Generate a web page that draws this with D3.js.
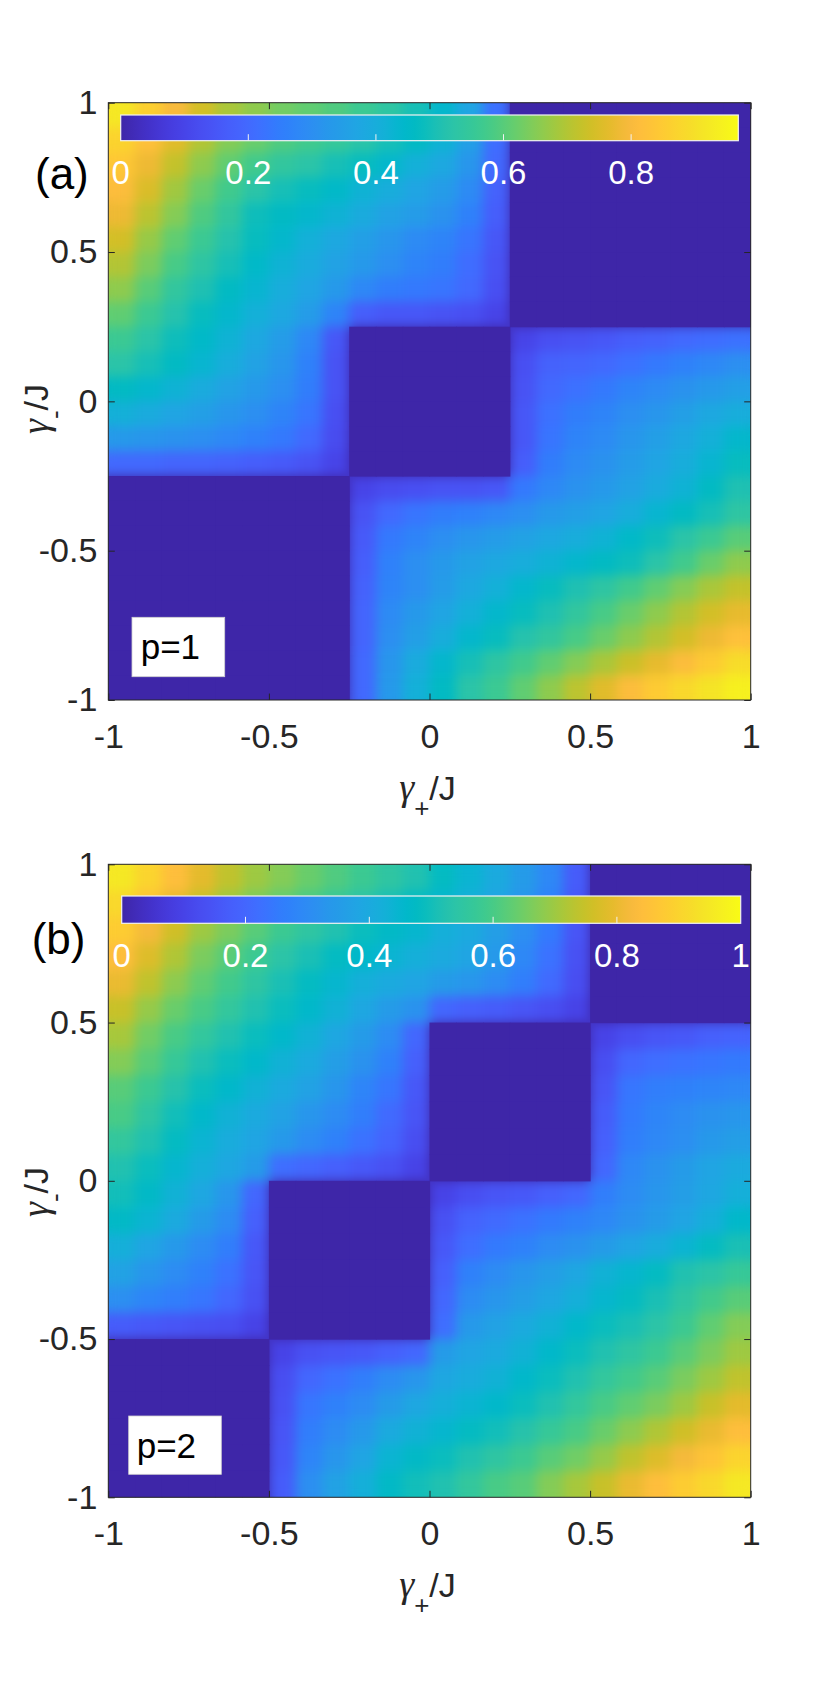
<!DOCTYPE html>
<html>
<head>
<meta charset="utf-8">
<script src="https://cdn.jsdelivr.net/npm/d3@7"></script>
<style>
  body { margin: 0; background: #fff; }
  svg text { font-family: "Liberation Sans", Arial, Helvetica, sans-serif; }
</style>
</head>
<body>
<script>
// axis ticks and colorbar ticks
const gammaTicks = [-1, -0.5, 0, 0.5, 1];
const cbTicksA = [0, 0.2, 0.4, 0.6, 0.8];
const cbTicksB = [0, 0.2, 0.4, 0.6, 0.8, 1];
const climA = [0, 0.968];
const climB = [0, 1];
const nGrid = 24; // cells per side, gamma from -1 to 1

// p=1 map, rows from gamma_- = 1 (top) to -1, columns gamma_+ = -1 .. 1 (values x100)
const valuesA = [
  [92,86,80,74,69,66,63,61,59,56,53,49,44,37,22,0,0,0,0,0,0,0,0,0],
  [87,82,76,70,65,62,59,57,55,52,49,46,42,35,21,0,0,0,0,0,0,0,0,0],
  [84,78,72,66,61,57,54,52,49,47,44,41,38,32,20,0,0,0,0,0,0,0,0,0],
  [81,75,68,62,57,52,49,47,45,42,40,37,34,29,18,0,0,0,0,0,0,0,0,0],
  [78,71,65,59,54,48,46,44,42,39,36,34,31,26,17,0,0,0,0,0,0,0,0,0],
  [74,67,61,56,51,47,44,41,38,35,32,29,27,23,15,0,0,0,0,0,0,0,0,0],
  [70,64,58,53,49,45,42,39,36,33,30,27,25,21,14,0,0,0,0,0,0,0,0,0],
  [66,60,54,50,46,43,40,37,33,28,25,24,23,20,13,0,0,0,0,0,0,0,0,0],
  [61,56,51,47,44,41,38,34,27,17,15,15,14,13,10,0,0,0,0,0,0,0,0,0],
  [56,52,48,45,42,38,34,28,15,0,0,0,0,0,0,10,13,14,15,17,18,20,21,22],
  [52,49,46,43,40,36,32,26,14,0,0,0,0,0,0,13,18,19,20,22,24,26,28,30],
  [46,44,42,39,36,33,30,25,14,0,0,0,0,0,0,14,20,22,24,27,29,31,33,35],
  [41,39,37,35,32,30,27,23,13,0,0,0,0,0,0,15,22,25,27,30,32,35,38,40],
  [33,32,31,30,28,26,24,20,12,0,0,0,0,0,0,15,23,27,29,32,35,38,41,44],
  [20,20,19,19,18,17,16,14,10,0,0,0,0,0,0,17,25,29,31,34,37,40,43,47],
  [0,0,0,0,0,0,0,0,0,10,12,13,14,14,15,24,28,31,33,36,39,42,46,50],
  [0,0,0,0,0,0,0,0,0,14,20,23,25,26,28,30,33,35,37,40,43,46,49,53],
  [0,0,0,0,0,0,0,0,0,16,24,27,30,32,34,36,38,40,42,45,48,52,56,60],
  [0,0,0,0,0,0,0,0,0,17,26,30,33,36,38,40,42,44,46,48,52,57,62,66],
  [0,0,0,0,0,0,0,0,0,18,27,30,34,38,41,44,47,50,53,57,61,65,69,72],
  [0,0,0,0,0,0,0,0,0,19,29,33,37,41,44,47,50,54,58,62,66,70,74,77],
  [0,0,0,0,0,0,0,0,0,19,30,35,40,44,47,51,54,58,62,66,70,74,78,82],
  [0,0,0,0,0,0,0,0,0,20,32,39,44,49,53,57,61,65,69,73,77,81,85,89],
  [0,0,0,0,0,0,0,0,0,20,33,41,46,52,56,61,66,71,76,81,85,88,91,94]
];

// p=2 map, same layout
const valuesB = [
  [95,90,84,79,74,70,67,64,61,58,55,52,48,44,40,35,29,17,0,0,0,0,0,0],
  [91,86,80,75,70,66,63,60,57,54,51,48,45,42,38,33,27,16,0,0,0,0,0,0],
  [88,82,76,70,66,62,58,55,52,49,47,45,42,40,36,31,25,15,0,0,0,0,0,0],
  [84,78,72,66,62,58,54,51,48,46,44,42,40,38,34,29,23,14,0,0,0,0,0,0],
  [80,74,68,63,59,55,51,48,45,42,40,38,35,33,30,26,21,13,0,0,0,0,0,0],
  [75,69,64,60,56,52,49,46,43,39,35,32,20,18,17,15,13,10,0,0,0,0,0,0],
  [71,65,60,56,52,49,46,43,39,35,30,20,0,0,0,0,0,0,10,13,15,16,18,19],
  [67,62,57,52,49,46,43,40,36,32,27,18,0,0,0,0,0,0,13,20,22,23,24,25],
  [62,58,53,49,46,43,40,37,33,28,24,16,0,0,0,0,0,0,15,24,26,27,28,29],
  [60,55,50,46,43,40,37,33,30,26,21,15,0,0,0,0,0,0,17,25,28,30,32,33],
  [56,52,48,44,41,38,34,30,27,23,19,13,0,0,0,0,0,0,18,26,29,31,34,36],
  [52,49,45,42,39,35,22,20,18,16,14,10,0,0,0,0,0,0,20,29,32,35,38,40],
  [50,47,43,39,33,20,0,0,0,0,0,0,10,13,15,16,18,20,26,30,33,36,39,42],
  [47,44,40,35,30,18,0,0,0,0,0,0,14,19,21,23,25,27,29,32,35,38,42,46],
  [42,38,34,30,26,16,0,0,0,0,0,0,16,22,25,27,30,32,35,38,41,44,48,51],
  [37,33,30,27,23,15,0,0,0,0,0,0,18,27,30,33,36,39,43,45,48,52,54,57],
  [31,28,26,24,20,14,0,0,0,0,0,0,20,30,33,36,39,42,45,48,51,55,59,62],
  [17,16,15,14,13,10,0,0,0,0,0,0,22,34,37,40,43,46,49,51,54,58,63,67],
  [0,0,0,0,0,0,10,14,15,16,18,20,35,38,40,43,46,49,52,55,58,62,66,70],
  [0,0,0,0,0,0,13,20,23,26,30,33,39,41,43,46,49,52,56,59,62,66,70,74],
  [0,0,0,0,0,0,14,24,27,30,35,39,42,44,46,49,52,56,60,63,66,70,75,79],
  [0,0,0,0,0,0,15,26,30,34,40,43,45,48,50,53,57,60,64,68,72,76,80,84],
  [0,0,0,0,0,0,16,28,33,38,44,47,49,52,55,58,62,65,69,74,78,82,86,90],
  [0,0,0,0,0,0,17,31,37,42,47,50,52,56,60,62,67,71,75,80,84,88,91,95]
];

// parula colormap, 64 entries (r, g, b in 0..1)
const parulaMap = [
  [0.2422,0.1504,0.6603],[0.2504,0.1650,0.7076],[0.2578,0.1818,0.7511],[0.2647,0.1978,0.7952],
  [0.2706,0.2147,0.8364],[0.2751,0.2342,0.8710],[0.2783,0.2559,0.8991],[0.2803,0.2782,0.9221],
  [0.2813,0.3006,0.9414],[0.2810,0.3228,0.9579],[0.2795,0.3447,0.9717],[0.2760,0.3667,0.9829],
  [0.2699,0.3892,0.9906],[0.2602,0.4123,0.9952],[0.2440,0.4358,0.9988],[0.2206,0.4603,0.9973],
  [0.1963,0.4847,0.9892],[0.1834,0.5074,0.9798],[0.1786,0.5289,0.9682],[0.1764,0.5499,0.9520],
  [0.1687,0.5703,0.9359],[0.1540,0.5902,0.9218],[0.1460,0.6091,0.9079],[0.1380,0.6276,0.8973],
  [0.1248,0.6459,0.8883],[0.1113,0.6635,0.8763],[0.0952,0.6798,0.8598],[0.0689,0.6948,0.8394],
  [0.0297,0.7082,0.8163],[0.0036,0.7203,0.7917],[0.0067,0.7312,0.7660],[0.0433,0.7411,0.7394],
  [0.0964,0.7500,0.7120],[0.1408,0.7584,0.6842],[0.1717,0.7670,0.6554],[0.1938,0.7758,0.6251],
  [0.2161,0.7843,0.5923],[0.2470,0.7918,0.5567],[0.2906,0.7973,0.5188],[0.3406,0.8008,0.4789],
  [0.3909,0.8029,0.4354],[0.4456,0.8024,0.3909],[0.5044,0.7993,0.3480],[0.5616,0.7942,0.3045],
  [0.6174,0.7876,0.2612],[0.6720,0.7793,0.2227],[0.7242,0.7698,0.1910],[0.7738,0.7598,0.1646],
  [0.8203,0.7498,0.1535],[0.8634,0.7406,0.1596],[0.9035,0.7330,0.1774],[0.9393,0.7288,0.2100],
  [0.9728,0.7298,0.2394],[0.9956,0.7434,0.2371],[0.9970,0.7659,0.2199],[0.9952,0.7893,0.2028],
  [0.9892,0.8136,0.1885],[0.9786,0.8386,0.1766],[0.9676,0.8639,0.1643],[0.9610,0.8890,0.1537],
  [0.9597,0.9135,0.1423],[0.9628,0.9373,0.1265],[0.9691,0.9606,0.1064],[0.9769,0.9839,0.0805]
];
const parulaCol = parulaMap.map(c => d3.rgb(c[0] * 255, c[1] * 255, c[2] * 255).formatHex());
const parulaPos = parulaCol.map((c, k) => k / (parulaCol.length - 1));
const parula = d3.scaleLinear().domain(parulaPos).range(parulaCol)
  .interpolate(d3.interpolateRgb).clamp(true);

const W = 830, H = 1683;
const axisColor = "#262626";

const svg = d3.select("body").append("svg")
  .attr("width", W).attr("height", H);

const defs = svg.append("defs");
const grad = defs.append("linearGradient").attr("id", "parulaGrad");
parulaPos.forEach((p, k) => {
  grad.append("stop").attr("offset", p).attr("stop-color", parulaCol[k]);
});

// soft rendering of the cells (shading), alpha pushed back to 1 at the borders
const smooth = defs.append("filter").attr("id", "smooth")
  .attr("color-interpolation-filters", "sRGB");
smooth.append("feGaussianBlur").attr("stdDeviation", 6);
smooth.append("feComponentTransfer")
  .append("feFuncA").attr("type", "linear").attr("slope", 30).attr("intercept", 0);

const panels = [
  { values: valuesA, clim: climA, cbTicks: cbTicksA, top: 102.7, bottom: 700,
    tag: "(a)", tagX: 35, tagY: 189, pText: "p=1", pBox: [132, 617.3, 92.7, 59.4], pTx: 140.7, pTy: 659.3,
    cb: [120.7, 738.3, 115, 140.7], cbLabelY: 184, yLabelY: 409 },
  { values: valuesB, clim: climB, cbTicks: cbTicksB, top: 864.3, bottom: 1497.3,
    tag: "(b)", tagX: 31.7, tagY: 954, pText: "p=2", pBox: [128.7, 1416, 92.6, 58.3], pTx: 136.7, pTy: 1458.3,
    cb: [121.7, 740.7, 896, 923.3], cbLabelY: 966.7, yLabelY: 1192 }
];

const left = 108.3, right = 750.7;

panels.forEach((p, k) => {
  const g = svg.append("g");

  // scales
  const x = d3.scaleLinear().domain([-1, 1]).range([left, right]);
  const y = d3.scaleLinear().domain([-1, 1]).range([p.bottom, p.top]);
  const col = d3.scaleBand().domain(d3.range(nGrid)).range([left, right]);
  const row = d3.scaleBand().domain(d3.range(nGrid)).range([p.top, p.bottom]);
  const color = v => parula(v / 100 / p.clim[1]);

  defs.append("clipPath").attr("id", "clip" + k)
    .append("rect")
      .attr("x", left).attr("y", p.top)
      .attr("width", right - left).attr("height", p.bottom - p.top);

  // heat map cells
  const cells = [];
  p.values.forEach((r, i) => r.forEach((v, j) => cells.push({ i, j, v })));
  g.append("g")
    .attr("clip-path", `url(#clip${k})`)
    .attr("filter", "url(#smooth)")
    .selectAll("rect")
    .data(cells)
    .join("rect")
      .attr("x", d => col(d.j))
      .attr("y", d => row(d.i))
      .attr("width", col.bandwidth() + 0.6)
      .attr("height", row.bandwidth() + 0.6)
      .attr("fill", d => color(d.v));

  // zero cells kept sharp on top
  g.append("g")
    .attr("clip-path", `url(#clip${k})`)
    .selectAll("rect")
    .data(cells.filter(d => d.v === 0))
    .join("rect")
      .attr("x", d => col(d.j))
      .attr("y", d => row(d.i))
      .attr("width", col.bandwidth() + 0.6)
      .attr("height", row.bandwidth() + 0.6)
      .attr("fill", d => color(d.v));

  // axes with inward ticks on all four sides
  const fmt = d => String(d);
  const xb = g.append("g").attr("transform", `translate(0,${p.bottom})`)
    .call(d3.axisBottom(x).tickValues(gammaTicks).tickFormat(fmt).tickSize(-6.5).tickSizeOuter(0).tickPadding(23.5));
  const xt = g.append("g").attr("transform", `translate(0,${p.top})`)
    .call(d3.axisTop(x).tickValues(gammaTicks).tickFormat("").tickSize(-6.5).tickSizeOuter(0));
  const yl = g.append("g").attr("transform", `translate(${left},0)`)
    .call(d3.axisLeft(y).tickValues(gammaTicks).tickFormat(fmt).tickSize(-6.5).tickSizeOuter(0).tickPadding(11));
  const yr = g.append("g").attr("transform", `translate(${right},0)`)
    .call(d3.axisRight(y).tickValues(gammaTicks).tickFormat("").tickSize(-6.5).tickSizeOuter(0));
  [xb, xt, yl, yr].forEach(a => {
    a.select(".domain").remove();
    a.selectAll(".tick line").attr("stroke", axisColor).attr("stroke-width", 1);
    a.selectAll(".tick text").attr("fill", axisColor).style("font-size", "34px");
  });

  g.append("rect")
    .attr("x", left).attr("y", p.top)
    .attr("width", right - left).attr("height", p.bottom - p.top)
    .attr("fill", "none").attr("stroke", axisColor).attr("stroke-width", 1);

  // colorbar inside the axes
  const [c0, c1, cy0, cy1] = p.cb;
  const cbx = d3.scaleLinear().domain(p.clim).range([c0, c1]);
  g.append("rect")
    .attr("x", c0).attr("y", cy0).attr("width", c1 - c0).attr("height", cy1 - cy0)
    .attr("fill", "url(#parulaGrad)")
    .attr("stroke", "#f2f2f2").attr("stroke-width", 1.2);
  g.append("g").selectAll("line")
    .data(p.cbTicks.filter(t => t > 0 && t < p.clim[1]))
    .join("line")
      .attr("x1", d => cbx(d)).attr("x2", d => cbx(d))
      .attr("y1", cy1).attr("y2", cy1 - 6.5)
      .attr("stroke", "#f2f2f2").attr("stroke-width", 1);
  g.append("g").selectAll("text")
    .data(p.cbTicks)
    .join("text")
      .attr("x", d => cbx(d)).attr("y", p.cbLabelY)
      .attr("text-anchor", "middle")
      .attr("fill", "#fff")
      .style("font-size", "33px")
      .text(d => String(d));

  // panel tag
  g.append("text")
    .attr("x", p.tagX).attr("y", p.tagY)
    .attr("fill", "#000")
    .style("font-size", "44px")
    .text(p.tag);

  // p label box
  g.append("rect")
    .attr("x", p.pBox[0]).attr("y", p.pBox[1]).attr("width", p.pBox[2]).attr("height", p.pBox[3])
    .attr("fill", "#fff").attr("stroke", "#d0d0d0").attr("stroke-width", 0.8);
  g.append("text")
    .attr("x", p.pTx).attr("y", p.pTy)
    .attr("fill", "#000")
    .style("font-size", "35px")
    .text(p.pText);

  // x label: gamma_+/J
  const xl = g.append("text")
    .attr("x", (left + right) / 2 - 2).attr("y", p.bottom + 100)
    .attr("text-anchor", "middle")
    .attr("fill", axisColor);
  xl.append("tspan").style("font-family", "'Liberation Serif', 'DejaVu Serif', serif")
    .style("font-style", "italic").style("font-size", "38px").text("γ");
  xl.append("tspan").attr("dy", 17).style("font-size", "26px").text("+");
  xl.append("tspan").attr("dy", -17).style("font-size", "34px").text("/J");

  // y label: gamma_-/J
  const ylab = g.append("text")
    .attr("transform", `translate(48,${p.yLabelY}) rotate(-90)`)
    .attr("text-anchor", "middle")
    .attr("fill", axisColor);
  ylab.append("tspan").style("font-family", "'Liberation Serif', 'DejaVu Serif', serif")
    .style("font-style", "italic").style("font-size", "38px").text("γ");
  ylab.append("tspan").attr("dy", 16).style("font-size", "26px").text("-");
  ylab.append("tspan").attr("dy", -16).style("font-size", "34px").text("/J");
});
</script>
</body>
</html>
